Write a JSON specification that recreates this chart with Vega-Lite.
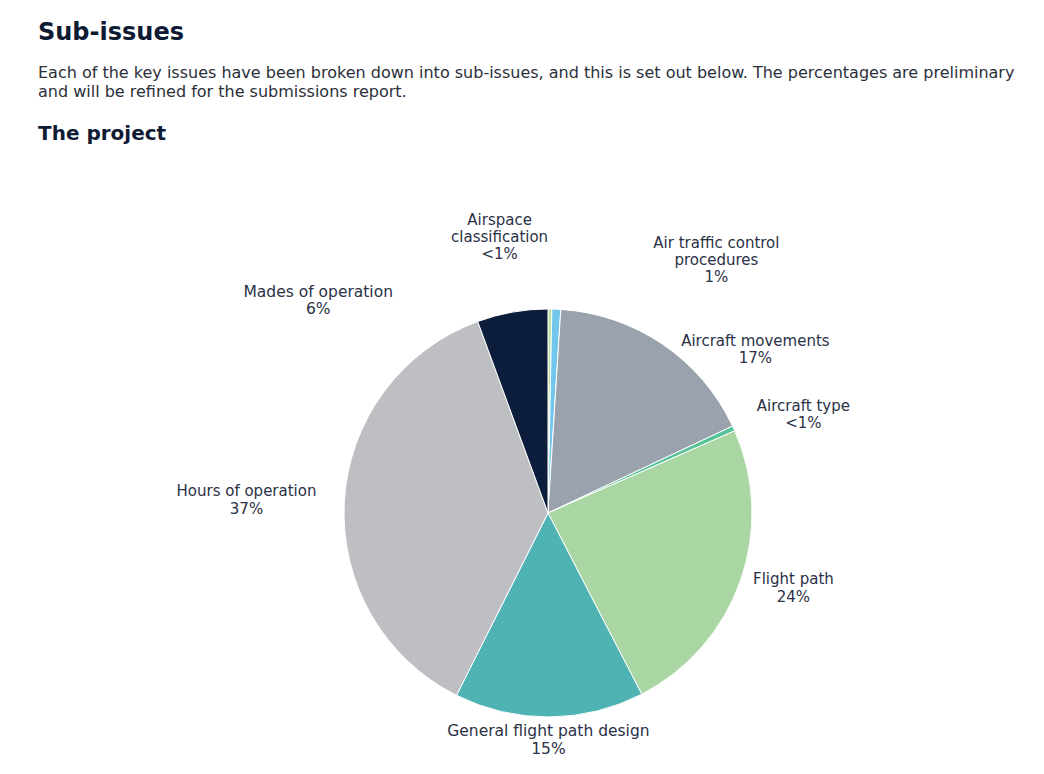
{
  "$schema": "https://vega.github.io/schema/vega-lite/v6.json",
  "background": "white",
  "padding": {"left": 38, "top": 21, "right": 0, "bottom": 0},
  "title": {
    "text": "Sub-issues",
    "subtitle": ["Each of the key issues have been broken down into sub-issues, and this is set out below. The percentages are preliminary", "and will be refined for the submissions report."],
    "anchor": "start",
    "frame": "group",
    "dx": -14,
    "font": "DejaVu Sans",
    "fontSize": 24,
    "fontWeight": "bold",
    "color": "#0f1a33",
    "subtitleFont": "DejaVu Sans",
    "subtitleFontSize": 16,
    "subtitleColor": "#2b2f3a",
    "subtitleLineHeight": 19,
    "subtitlePadding": 20,
    "offset": 24
  },
  "vconcat": [
    {
      "width": 992,
      "height": 524,
      "title": {
        "text": "The project",
        "anchor": "start",
        "frame": "group",
        "dx": -14,
        "font": "DejaVu Sans",
        "fontSize": 20,
        "fontWeight": "bold",
        "color": "#0f1a33",
        "offset": 55
      },
      "data": {
        "values": [
          {"cat": "Airspace classification", "value": 0.3, "ord": 1, "label": "Airspace\nclassification\n<1%"},
          {"cat": "Air traffic control procedures", "value": 0.7, "ord": 2, "label": "Air traffic control\nprocedures\n1%"},
          {"cat": "Aircraft movements", "value": 17, "ord": 3, "label": "Aircraft movements\n17%"},
          {"cat": "Aircraft type", "value": 0.4, "ord": 4, "label": "Aircraft type\n<1%"},
          {"cat": "Flight path", "value": 24, "ord": 5, "label": "Flight path\n24%"},
          {"cat": "General flight path design", "value": 15, "ord": 6, "label": "General flight path design\n15%"},
          {"cat": "Hours of operation", "value": 37, "ord": 7, "label": "Hours of operation\n37%"},
          {"cat": "Modes of operation", "value": 5.6, "ord": 8, "label": "Mades of operation\n6%"}
        ]
      },
      "encoding": {
        "theta": {"field": "value", "type": "quantitative", "stack": true},
        "order": {"field": "ord", "type": "quantitative"}
      },
      "layer": [
        {
          "mark": {"type": "arc", "outerRadius": 204, "stroke": "white", "strokeWidth": 1},
          "encoding": {
            "color": {
              "field": "cat",
              "type": "nominal",
              "legend": null,
              "scale": {
                "domain": ["Airspace classification", "Air traffic control procedures", "Aircraft movements", "Aircraft type", "Flight path", "General flight path design", "Hours of operation", "Modes of operation"],
                "range": ["#b9e09c", "#72c6ec", "#99a2ad", "#55c196", "#a9d6a3", "#4fb3b3", "#bdbfc2", "#0c1d3b"]
              }
            }
          }
        },
        {
          "mark": {"type": "text", "radius": 276, "dx": -51, "dy": -17, "lineBreak": "\n", "font": "DejaVu Sans", "fontSize": 15, "lineHeight": 17, "color": "#2b3146", "align": "center", "baseline": "middle"},
          "encoding": {"text": {"condition": {"test": "datum.cat === 'Airspace classification'", "field": "label"}, "value": ""}}
        },
        {
          "mark": {"type": "text", "radius": 304, "dx": 156, "dy": 34, "lineBreak": "\n", "font": "DejaVu Sans", "fontSize": 15, "lineHeight": 17, "color": "#2b3146", "align": "center", "baseline": "middle"},
          "encoding": {"text": {"condition": {"test": "datum.cat === 'Air traffic control procedures'", "field": "label"}, "value": ""}}
        },
        {
          "mark": {"type": "text", "radius": 264, "dx": 59, "dy": 46, "lineBreak": "\n", "font": "DejaVu Sans", "fontSize": 15, "lineHeight": 17, "color": "#2b3146", "align": "center", "baseline": "middle"},
          "encoding": {"text": {"condition": {"test": "datum.cat === 'Aircraft movements'", "field": "label"}, "value": ""}}
        },
        {
          "mark": {"type": "text", "radius": 274, "dx": 6, "dy": 7, "lineBreak": "\n", "font": "DejaVu Sans", "fontSize": 15, "lineHeight": 17, "color": "#2b3146", "align": "center", "baseline": "middle"},
          "encoding": {"text": {"condition": {"test": "datum.cat === 'Aircraft type'", "field": "label"}, "value": ""}}
        },
        {
          "mark": {"type": "text", "radius": 256, "dx": 4, "dy": -19, "lineBreak": "\n", "font": "DejaVu Sans", "fontSize": 15, "lineHeight": 18, "color": "#2b3146", "align": "center", "baseline": "middle"},
          "encoding": {"text": {"condition": {"test": "datum.cat === 'Flight path'", "field": "label"}, "value": ""}}
        },
        {
          "mark": {"type": "text", "radius": 227, "dx": -1, "dy": -9, "lineBreak": "\n", "font": "DejaVu Sans", "fontSize": 15.5, "lineHeight": 18, "color": "#2b3146", "align": "center", "baseline": "middle"},
          "encoding": {"text": {"condition": {"test": "datum.cat === 'General flight path design'", "field": "label"}, "value": ""}}
        },
        {
          "mark": {"type": "text", "radius": 302, "dx": 0, "dy": -5, "lineBreak": "\n", "font": "DejaVu Sans", "fontSize": 15, "lineHeight": 18, "color": "#2b3146", "align": "center", "baseline": "middle"},
          "encoding": {"text": {"condition": {"test": "datum.cat === 'Hours of operation'", "field": "label"}, "value": ""}}
        },
        {
          "mark": {"type": "text", "radius": 313, "dx": -175, "dy": 87, "lineBreak": "\n", "font": "DejaVu Sans", "fontSize": 15.5, "lineHeight": 17, "color": "#2b3146", "align": "center", "baseline": "middle"},
          "encoding": {"text": {"condition": {"test": "datum.cat === 'Modes of operation'", "field": "label"}, "value": ""}}
        }
      ]
    }
  ],
  "config": {
    "view": {"stroke": null},
    "concat": {"spacing": 0}
  }
}
